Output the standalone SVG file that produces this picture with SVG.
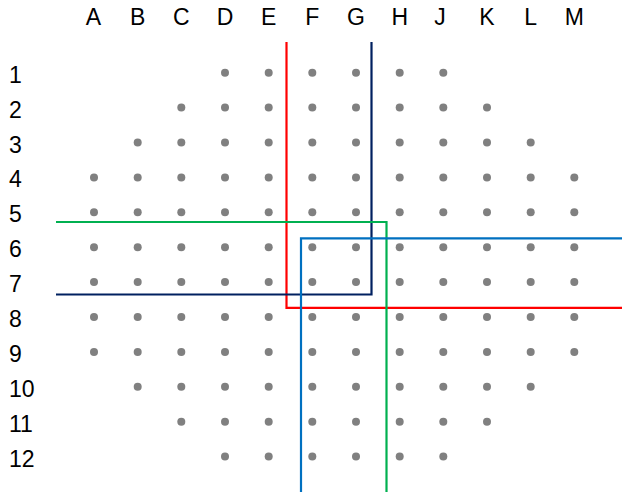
<svg xmlns="http://www.w3.org/2000/svg" width="622" height="495" viewBox="0 0 622 495">
<style>
text{font-family:"Liberation Sans",Arial,sans-serif;font-size:23px;fill:#000}
.c{text-anchor:middle}
.d{fill:#808080}
.ln{fill:none;stroke-width:2.2;stroke-linejoin:miter}
</style>
<defs><circle id="dot" r="4" class="d"/></defs>
<rect width="622" height="495" fill="#fff"/>
<g id="col-labels">
<text class="c" x="93.5" y="25">A</text><text class="c" x="137.7" y="25">B</text><text class="c" x="181.3" y="25">C</text><text class="c" x="225" y="25">D</text><text class="c" x="268.7" y="25">E</text><text class="c" x="312.3" y="25">F</text><text class="c" x="356" y="25">G</text><text class="c" x="399.7" y="25">H</text><text class="c" x="440" y="25">J</text><text class="c" x="487" y="25">K</text><text class="c" x="530.7" y="25">L</text><text class="c" x="574.3" y="25">M</text>
</g>
<g id="row-labels">
<text x="9" y="82.7">1</text><text x="9" y="117.6">2</text><text x="9" y="152.5">3</text><text x="9" y="187.4">4</text><text x="9" y="222.3">5</text><text x="9" y="257.2">6</text><text x="9" y="292.1">7</text><text x="9" y="327">8</text><text x="9" y="361.9">9</text><text x="9" y="396.8">10</text><text x="9" y="431.7">11</text><text x="9" y="466.6">12</text>
</g>
<g id="dots">
<g id="row1"><use href="#dot" x="225" y="72.7"/><use href="#dot" x="268.7" y="72.7"/><use href="#dot" x="312.3" y="72.7"/><use href="#dot" x="356" y="72.7"/><use href="#dot" x="399.7" y="72.7"/><use href="#dot" x="443.3" y="72.7"/></g>
<g id="row2"><use href="#dot" x="181.3" y="107.6"/><use href="#dot" x="225" y="107.6"/><use href="#dot" x="268.7" y="107.6"/><use href="#dot" x="312.3" y="107.6"/><use href="#dot" x="356" y="107.6"/><use href="#dot" x="399.7" y="107.6"/><use href="#dot" x="443.3" y="107.6"/><use href="#dot" x="487" y="107.6"/></g>
<g id="row3"><use href="#dot" x="137.7" y="142.5"/><use href="#dot" x="181.3" y="142.5"/><use href="#dot" x="225" y="142.5"/><use href="#dot" x="268.7" y="142.5"/><use href="#dot" x="312.3" y="142.5"/><use href="#dot" x="356" y="142.5"/><use href="#dot" x="399.7" y="142.5"/><use href="#dot" x="443.3" y="142.5"/><use href="#dot" x="487" y="142.5"/><use href="#dot" x="530.7" y="142.5"/></g>
<g id="row4"><use href="#dot" x="94" y="177.4"/><use href="#dot" x="137.7" y="177.4"/><use href="#dot" x="181.3" y="177.4"/><use href="#dot" x="225" y="177.4"/><use href="#dot" x="268.7" y="177.4"/><use href="#dot" x="312.3" y="177.4"/><use href="#dot" x="356" y="177.4"/><use href="#dot" x="399.7" y="177.4"/><use href="#dot" x="443.3" y="177.4"/><use href="#dot" x="487" y="177.4"/><use href="#dot" x="530.7" y="177.4"/><use href="#dot" x="574.3" y="177.4"/></g>
<g id="row5"><use href="#dot" x="94" y="212.3"/><use href="#dot" x="137.7" y="212.3"/><use href="#dot" x="181.3" y="212.3"/><use href="#dot" x="225" y="212.3"/><use href="#dot" x="268.7" y="212.3"/><use href="#dot" x="312.3" y="212.3"/><use href="#dot" x="356" y="212.3"/><use href="#dot" x="399.7" y="212.3"/><use href="#dot" x="443.3" y="212.3"/><use href="#dot" x="487" y="212.3"/><use href="#dot" x="530.7" y="212.3"/><use href="#dot" x="574.3" y="212.3"/></g>
<g id="row6"><use href="#dot" x="94" y="247.2"/><use href="#dot" x="137.7" y="247.2"/><use href="#dot" x="181.3" y="247.2"/><use href="#dot" x="225" y="247.2"/><use href="#dot" x="268.7" y="247.2"/><use href="#dot" x="312.3" y="247.2"/><use href="#dot" x="356" y="247.2"/><use href="#dot" x="399.7" y="247.2"/><use href="#dot" x="443.3" y="247.2"/><use href="#dot" x="487" y="247.2"/><use href="#dot" x="530.7" y="247.2"/><use href="#dot" x="574.3" y="247.2"/></g>
<g id="row7"><use href="#dot" x="94" y="282.1"/><use href="#dot" x="137.7" y="282.1"/><use href="#dot" x="181.3" y="282.1"/><use href="#dot" x="225" y="282.1"/><use href="#dot" x="268.7" y="282.1"/><use href="#dot" x="312.3" y="282.1"/><use href="#dot" x="356" y="282.1"/><use href="#dot" x="399.7" y="282.1"/><use href="#dot" x="443.3" y="282.1"/><use href="#dot" x="487" y="282.1"/><use href="#dot" x="530.7" y="282.1"/><use href="#dot" x="574.3" y="282.1"/></g>
<g id="row8"><use href="#dot" x="94" y="317"/><use href="#dot" x="137.7" y="317"/><use href="#dot" x="181.3" y="317"/><use href="#dot" x="225" y="317"/><use href="#dot" x="268.7" y="317"/><use href="#dot" x="312.3" y="317"/><use href="#dot" x="356" y="317"/><use href="#dot" x="399.7" y="317"/><use href="#dot" x="443.3" y="317"/><use href="#dot" x="487" y="317"/><use href="#dot" x="530.7" y="317"/><use href="#dot" x="574.3" y="317"/></g>
<g id="row9"><use href="#dot" x="94" y="351.9"/><use href="#dot" x="137.7" y="351.9"/><use href="#dot" x="181.3" y="351.9"/><use href="#dot" x="225" y="351.9"/><use href="#dot" x="268.7" y="351.9"/><use href="#dot" x="312.3" y="351.9"/><use href="#dot" x="356" y="351.9"/><use href="#dot" x="399.7" y="351.9"/><use href="#dot" x="443.3" y="351.9"/><use href="#dot" x="487" y="351.9"/><use href="#dot" x="530.7" y="351.9"/><use href="#dot" x="574.3" y="351.9"/></g>
<g id="row10"><use href="#dot" x="137.7" y="386.8"/><use href="#dot" x="181.3" y="386.8"/><use href="#dot" x="225" y="386.8"/><use href="#dot" x="268.7" y="386.8"/><use href="#dot" x="312.3" y="386.8"/><use href="#dot" x="356" y="386.8"/><use href="#dot" x="399.7" y="386.8"/><use href="#dot" x="443.3" y="386.8"/><use href="#dot" x="487" y="386.8"/><use href="#dot" x="530.7" y="386.8"/></g>
<g id="row11"><use href="#dot" x="181.3" y="421.7"/><use href="#dot" x="225" y="421.7"/><use href="#dot" x="268.7" y="421.7"/><use href="#dot" x="312.3" y="421.7"/><use href="#dot" x="356" y="421.7"/><use href="#dot" x="399.7" y="421.7"/><use href="#dot" x="443.3" y="421.7"/><use href="#dot" x="487" y="421.7"/></g>
<g id="row12"><use href="#dot" x="225" y="456.6"/><use href="#dot" x="268.7" y="456.6"/><use href="#dot" x="312.3" y="456.6"/><use href="#dot" x="356" y="456.6"/><use href="#dot" x="399.7" y="456.6"/><use href="#dot" x="443.3" y="456.6"/></g>
</g>
<g id="connectors">
<path class="ln" stroke="#ff0000" d="M286.5,42 V307.8 H622"/>
<path class="ln" stroke="#002060" d="M371.5,42 V294.5 H56"/>
<path class="ln" stroke="#00b050" d="M56,222 H386.5 V492"/>
<path class="ln" stroke="#0070c0" d="M622,238.3 H301 V492"/>
</g>
</svg>
